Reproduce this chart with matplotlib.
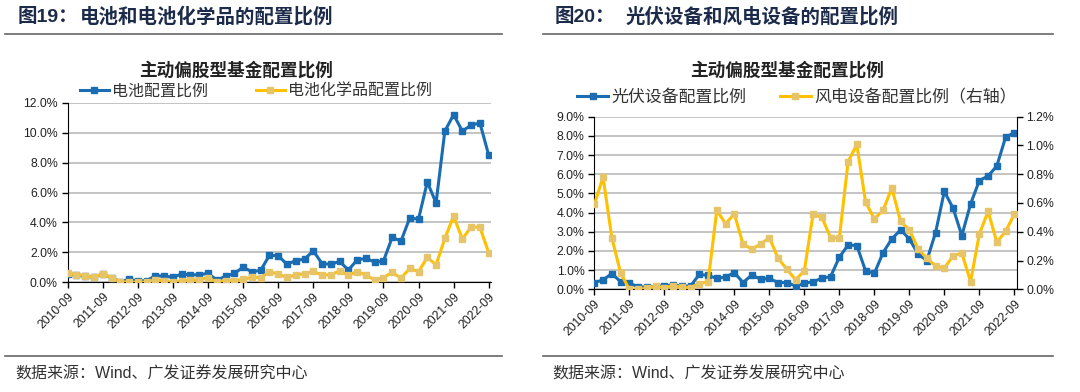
import numpy as np
import matplotlib.pyplot as plt
from matplotlib.lines import Line2D
from matplotlib.ticker import MultipleLocator, FuncFormatter

plt.rcParams['font.family'] = ['Liberation Sans', 'Noto Sans CJK SC']

# 季度数据: 2010-09 ~ 2022-09, 共49个季度
tick_labels = ['2010-09', '2011-09', '2012-09', '2013-09', '2014-09', '2015-09', '2016-09',
               '2017-09', '2018-09', '2019-09', '2020-09', '2021-09', '2022-09']

battery = [0.55, 0.50, 0.40, 0.35, 0.55, 0.30, 0.05, 0.20, 0.10, 0.10, 0.45, 0.40, 0.35,
           0.55, 0.50, 0.50, 0.60, 0.15, 0.40, 0.60, 1.00, 0.70, 0.80, 1.80, 1.78, 1.20,
           1.45, 1.55, 2.10, 1.25, 1.20, 1.40, 0.82, 1.49, 1.60, 1.35, 1.42, 3.00, 2.75,
           4.30, 4.22, 6.70, 5.30, 10.10, 11.20, 10.10, 10.50, 10.65, 8.50]
battery_chem = [0.60, 0.52, 0.44, 0.33, 0.58, 0.30, 0.04, 0.00, 0.00, 0.00, 0.15, 0.10, 0.00,
                0.10, 0.15, 0.15, 0.32, 0.00, 0.10, 0.11, 0.20, 0.33, 0.30, 0.71, 0.55, 0.33,
                0.49, 0.58, 0.73, 0.49, 0.50, 0.76, 0.47, 0.71, 0.49, 0.15, 0.31, 0.67, 0.27,
                0.93, 0.71, 1.67, 1.16, 2.93, 4.42, 2.89, 3.71, 3.67, 1.98]

pv = [0.35, 0.49, 0.82, 0.40, 0.31, 0.14, 0.10, 0.14, 0.19, 0.23, 0.17, 0.17, 0.78,
      0.72, 0.57, 0.64, 0.87, 0.35, 0.75, 0.52, 0.57, 0.35, 0.35, 0.18, 0.31, 0.40,
      0.57, 0.66, 1.67, 2.31, 2.28, 0.96, 0.83, 1.91, 2.63, 3.10, 2.63, 1.84, 1.50,
      2.96, 5.10, 4.23, 2.80, 4.45, 5.67, 5.91, 6.43, 7.93, 8.17]
wind = [0.59, 0.78, 0.36, 0.115, 0.00, 0.00, 0.007, 0.02, 0.012, 0.025, 0.014, 0.012, 0.04,
        0.053, 0.55, 0.455, 0.525, 0.313, 0.28, 0.313, 0.36, 0.216, 0.14, 0.067, 0.128, 0.523,
        0.50, 0.36, 0.356, 0.886, 1.007, 0.607, 0.49, 0.549, 0.705, 0.472, 0.414, 0.281, 0.216,
        0.163, 0.147, 0.233, 0.251, 0.053, 0.384, 0.542, 0.328, 0.402, 0.523]

BLUE = '#1A6DB3'
YELLOW = '#FFC000'
YELLOW_MK = '#E6C46A'
GRID = '#BFBFBF'
TXT = '#1C2B4A'

W, H = 1080, 392
fig = plt.figure(figsize=(W / 100, H / 100), dpi=100)


def box(x0, y0, x1, y1):
    # 像素坐标 -> figure坐标
    return [x0 / W, 1 - y1 / H, (x1 - x0) / W, (y1 - y0) / H]


def fx(x):
    return x / W


def fy(y):
    return 1 - y / H


pct = FuncFormatter(lambda v, p: f'{v:.1f}%')


def style_axes(ax, xmax):
    ax.set_xlim(0, xmax)
    ax.set_xticks(np.arange(0, 49, 4))
    ax.set_xticklabels(tick_labels, rotation=45, ha='right', rotation_mode='anchor',
                       fontsize=8.8, color='#222222')
    ax.tick_params(axis='x', length=4, width=1, direction='out', pad=2)
    ax.tick_params(axis='y', length=4, width=1, direction='out', labelsize=8.8,
                   labelcolor='#222222', pad=3)
    ax.yaxis.grid(True, color=GRID, lw=1.3)
    ax.set_axisbelow(True)
    for s in ['top', 'right']:
        ax.spines[s].set_visible(False)
    ax.spines['left'].set_color('black')
    ax.spines['bottom'].set_color('black')


x = np.arange(len(battery))

# ---------------- 图19 ----------------
ax1 = fig.add_axes(box(67.7, 102.7, 490.7, 282.3))
ax1.plot(x, battery, color=BLUE, lw=2.2, marker='s', ms=4.2, mfc=BLUE, mec=BLUE, zorder=3)
ax1.plot(x, battery_chem, color=YELLOW, lw=2.2, marker='s', ms=4.2, mfc=YELLOW_MK,
         mec=YELLOW_MK, zorder=4)
ax1.set_ylim(0, 12)
ax1.yaxis.set_major_locator(MultipleLocator(2))
ax1.yaxis.set_major_formatter(pct)
style_axes(ax1, 48.23)

fig.text(fx(18), fy(17), '图19：', fontsize=14, fontweight='bold', color=TXT, va='center',
         family=['Liberation Sans', 'Noto Sans CJK SC'])
fig.text(fx(80), fy(17), '电池和电池化学品的配置比例', fontsize=14, fontweight='bold', color=TXT,
         va='center', family='Noto Sans CJK SC')
fig.add_artist(Line2D([fx(5), fx(502)], [fy(33.5), fy(33.5)], color='#666666', lw=1.2))
fig.text(fx(236), fy(71), '主动偏股型基金配置比例', fontsize=12.7, fontweight='bold', color='#222222',
         ha='center', va='center', family='Noto Sans CJK SC')
h1 = [Line2D([], [], color=BLUE, lw=2.2, marker='s', ms=4.2, mfc=BLUE, mec=BLUE),
      Line2D([], [], color=YELLOW, lw=2.2, marker='s', ms=4.2, mfc=YELLOW_MK, mec=YELLOW_MK)]
fig.legend(h1, ['电池配置比例', '电池化学品配置比例'], loc='center', bbox_to_anchor=(fx(256), fy(91)),
           ncol=2, frameon=False, fontsize=11.5, handlelength=1.8, handletextpad=0.2,
           columnspacing=3.0, labelcolor='#333333')
fig.add_artist(Line2D([fx(5), fx(502)], [fy(356), fy(356)], color='#666666', lw=1.2))
fig.text(fx(15), fy(374), '数据来源：Wind、广发证券发展研究中心', fontsize=11.5, color='#333333',
         va='center')

# ---------------- 图20 ----------------
ax2 = fig.add_axes(box(594.3, 116.7, 1016.7, 289.3))
ax2.plot(x, pv, color=BLUE, lw=2.2, marker='s', ms=4.2, mfc=BLUE, mec=BLUE, zorder=3)
ax2.set_ylim(0, 9)
ax2.yaxis.set_major_locator(MultipleLocator(1))
ax2.yaxis.set_major_formatter(pct)
style_axes(ax2, 48.27)

ax3 = ax2.twinx()
ax3.plot(x, wind, color=YELLOW, lw=2.2, marker='s', ms=4.2, mfc=YELLOW_MK, mec=YELLOW_MK, zorder=4)
ax3.set_ylim(0, 1.2)
ax3.yaxis.set_major_locator(MultipleLocator(0.2))
ax3.yaxis.set_major_formatter(pct)
ax3.tick_params(axis='y', length=4, width=1, direction='out', labelsize=8.8,
                labelcolor='#222222', pad=3)
ax3.spines['top'].set_visible(False)
ax3.spines['right'].set_color('black')
ax3.spines['left'].set_visible(False)
ax3.spines['bottom'].set_visible(False)

fig.text(fx(555), fy(17), '图20：', fontsize=14, fontweight='bold', color=TXT, va='center',
         family=['Liberation Sans', 'Noto Sans CJK SC'])
fig.text(fx(626), fy(17), '光伏设备和风电设备的配置比例', fontsize=14, fontweight='bold', color=TXT,
         va='center', family='Noto Sans CJK SC')
fig.add_artist(Line2D([fx(543), fx(1053)], [fy(33.5), fy(33.5)], color='#666666', lw=1.2))
fig.text(fx(787), fy(71), '主动偏股型基金配置比例', fontsize=12.7, fontweight='bold', color='#222222',
         ha='center', va='center', family='Noto Sans CJK SC')
h2 = [Line2D([], [], color=BLUE, lw=2.2, marker='s', ms=4.2, mfc=BLUE, mec=BLUE),
      Line2D([], [], color=YELLOW, lw=2.2, marker='s', ms=4.2, mfc=YELLOW_MK, mec=YELLOW_MK)]
fig.legend(h2, ['光伏设备配置比例', '风电设备配置比例（右轴）'], loc='center',
           bbox_to_anchor=(fx(797), fy(97)), ncol=2, frameon=False, fontsize=12.2,
           handlelength=1.8, handletextpad=0.2, columnspacing=2.0, labelcolor='#333333')
fig.add_artist(Line2D([fx(543), fx(1053)], [fy(356), fy(356)], color='#666666', lw=1.2))
fig.text(fx(552), fy(374), '数据来源：Wind、广发证券发展研究中心', fontsize=11.5, color='#333333',
         va='center')

fig.savefig('out.png', dpi=100)
